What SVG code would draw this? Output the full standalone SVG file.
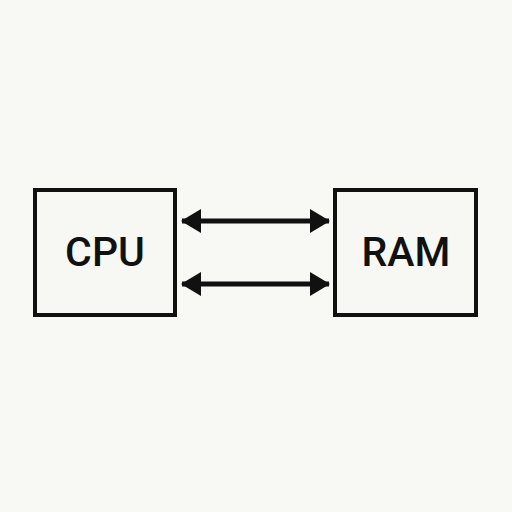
<svg xmlns="http://www.w3.org/2000/svg" width="512" height="512" viewBox="0 0 512 512">
<style>
.box{fill:#f7f7f4;stroke:#111;stroke-width:4}
.lbl{font-family:Roboto,"Liberation Sans",Arial,sans-serif;font-weight:500;font-size:41px;fill:#111;text-anchor:middle}
.conn{stroke:#111;stroke-width:5;fill:none}
</style>
<defs>
<marker id="ah" viewBox="0 0 20 24" refX="19" refY="12" markerWidth="20" markerHeight="24" markerUnits="userSpaceOnUse" orient="auto-start-reverse">
<path d="M0,0 L20,12 L0,24 Z" fill="#111"/>
</marker>
</defs>
<rect width="512" height="512" fill="#f8f8f5"/>
<g id="cpu">
<rect class="box" x="35" y="190" width="140" height="125"/>
<text class="lbl" x="105" y="266">CPU</text>
</g>
<g id="ram">
<rect class="box" x="335" y="190" width="141" height="125"/>
<text class="lbl" x="406" y="266">RAM</text>
</g>
<g id="connectors">
<line class="conn" x1="182" y1="221" x2="329" y2="221" marker-start="url(#ah)" marker-end="url(#ah)"/>
<line class="conn" x1="182" y1="284" x2="329" y2="284" marker-start="url(#ah)" marker-end="url(#ah)"/>
</g>
</svg>
